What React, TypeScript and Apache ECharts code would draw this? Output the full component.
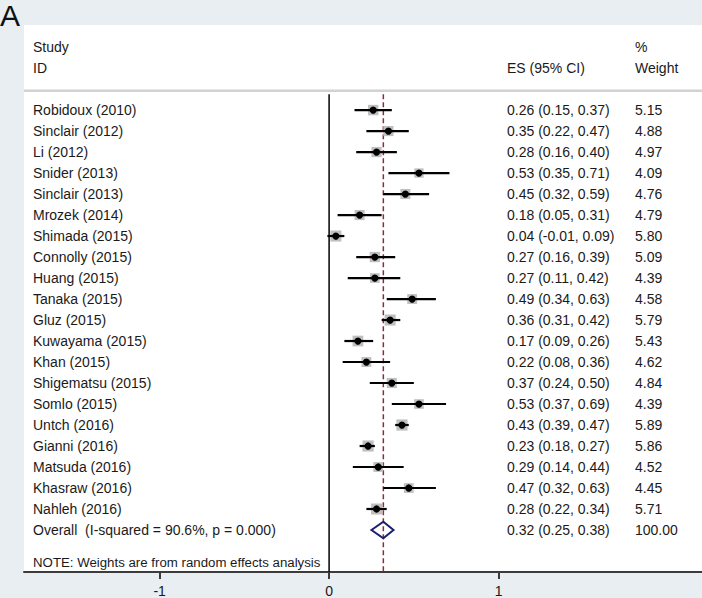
import React, { useEffect, useRef } from "react";
import * as echarts from "echarts";

// ---- data ----
const studies = [
  "Robidoux (2010)", "Sinclair (2012)", "Li (2012)", "Snider (2013)", "Sinclair (2013)",
  "Mrozek (2014)", "Shimada (2015)", "Connolly (2015)", "Huang (2015)", "Tanaka (2015)",
  "Gluz (2015)", "Kuwayama (2015)", "Khan (2015)", "Shigematsu (2015)", "Somlo (2015)",
  "Untch (2016)", "Gianni (2016)", "Matsuda (2016)", "Khasraw (2016)", "Nahleh (2016)",
];
const es = [0.26, 0.35, 0.28, 0.53, 0.45, 0.18, 0.04, 0.27, 0.27, 0.49, 0.36, 0.17, 0.22, 0.37, 0.53, 0.43, 0.23, 0.29, 0.47, 0.28];
const ciLow = [0.15, 0.22, 0.16, 0.35, 0.32, 0.05, -0.01, 0.16, 0.11, 0.34, 0.31, 0.09, 0.08, 0.24, 0.37, 0.39, 0.18, 0.14, 0.32, 0.22];
const ciHigh = [0.37, 0.47, 0.40, 0.71, 0.59, 0.31, 0.09, 0.39, 0.42, 0.63, 0.42, 0.26, 0.36, 0.50, 0.69, 0.47, 0.27, 0.44, 0.63, 0.34];
const weights = [5.15, 4.88, 4.97, 4.09, 4.76, 4.79, 5.80, 5.09, 4.39, 4.58, 5.79, 5.43, 4.62, 4.84, 4.39, 5.89, 5.86, 4.52, 4.45, 5.71];

const overallLabel = "Overall  (I-squared = 90.6%, p = 0.000)";
const overallES = 0.32;
const overallLow = 0.25;
const overallHigh = 0.38;
const overallWeight = 100.0;
const noteText = "NOTE: Weights are from random effects analysis";
const headerRow1 = ["Study", "", "%"];
const headerRow2 = ["ID", "ES (95% CI)", "Weight"];
const xTicks = [-1, 0, 1];

// ---- layout constants ----
const FONT = "Liberation Sans, Arial, sans-serif";
const TEXT_COLOR = "#1a1a1a";
const COL_X = [33, 507, 635];

const fmt = (v: number) => v.toFixed(2);

type TextRow = { row: number; cells: string[]; size: number };
const textRows: TextRow[] = [
  { row: -3, cells: headerRow1, size: 14 },
  { row: -2, cells: headerRow2, size: 14 },
  ...studies.map((s, i) => ({
    row: i,
    cells: [s, `${fmt(es[i])} (${fmt(ciLow[i])}, ${fmt(ciHigh[i])})`, fmt(weights[i])],
    size: 14,
  })),
  {
    row: studies.length,
    cells: [overallLabel, `${fmt(overallES)} (${fmt(overallLow)}, ${fmt(overallHigh)})`, fmt(overallWeight)],
    size: 14,
  },
  { row: studies.length + 1.55, cells: [noteText, "", ""], size: 13.25 },
];

export default function App() {
  const ref = useRef<HTMLDivElement>(null);
  useEffect(() => {
    if (!ref.current) return;
    const chart = echarts.init(ref.current, null, { renderer: "svg" });

    const studyData = studies.map((_, i) => [es[i], i, ciLow[i], ciHigh[i], weights[i]]);

    chart.setOption({
      animation: false,
      backgroundColor: "#e8eef1",
      grid: {
        left: 24,
        right: 0,
        top: 25,
        bottom: 26,
        show: true,
        backgroundColor: "#ffffff",
        borderWidth: 0,
      },
      xAxis: {
        type: "value",
        min: -1.8,
        max: 2.2,
        position: "bottom",
        axisLine: { show: true, onZero: false, lineStyle: { color: "#3c3c3c", width: 2 } },
        axisTick: { show: true, customValues: xTicks, length: 7, lineStyle: { color: "#3c3c3c", width: 2 } },
        axisLabel: {
          show: true,
          customValues: xTicks,
          color: TEXT_COLOR,
          fontSize: 14,
          fontFamily: FONT,
          margin: 12,
        },
        splitLine: { show: false },
      },
      yAxis: {
        type: "value",
        min: -4.05,
        max: 22,
        inverse: true,
        show: false,
      },
      graphic: [
        {
          type: "text",
          x: 0,
          y: 0,
          style: { text: "A", fill: "#111", font: `30px ${FONT}`, align: "left", verticalAlign: "top" },
        },
        {
          type: "line",
          shape: { x1: 24, y1: 90.8, x2: 702, y2: 90.8 },
          style: { stroke: "#d2d2d2", lineWidth: 2.5 },
        },
      ],
      series: [
        // reference lines (no effect and overall effect)
        {
          type: "custom",
          silent: true,
          data: [
            [0, -0.75, 22, 0],
            [overallES, -0.75, 22, 1],
          ],
          renderItem: (params: any, api: any) => {
            const a = api.coord([api.value(0), api.value(1)]);
            const b = api.coord([api.value(0), api.value(2)]);
            const dashed = api.value(3) === 1;
            return {
              type: "line",
              shape: { x1: a[0], y1: a[1], x2: b[0], y2: b[1] },
              style: dashed
                ? { stroke: "#8e2b3c", lineWidth: 1.5, lineDash: [5, 3] }
                : { stroke: "#000", lineWidth: 1.5 },
            };
          },
        },
        // study markers
        {
          type: "custom",
          silent: true,
          data: studyData,
          renderItem: (params: any, api: any) => {
            const row = api.value(1);
            const c = api.coord([api.value(0), row]);
            const l = api.coord([api.value(2), row]);
            const h = api.coord([api.value(3), row]);
            const side = 4.6 * Math.sqrt(api.value(4));
            return {
              type: "group",
              children: [
                {
                  type: "rect",
                  shape: { x: c[0] - side / 2, y: c[1] - side / 2, width: side, height: side },
                  style: { fill: "#bfbfbf" },
                },
                {
                  type: "line",
                  shape: { x1: l[0], y1: l[1], x2: h[0], y2: h[1] },
                  style: { stroke: "#000", lineWidth: 2.2 },
                },
                {
                  type: "circle",
                  shape: { cx: c[0], cy: c[1], r: 3.6 },
                  style: { fill: "#000" },
                },
              ],
            };
          },
        },
        // overall diamond
        {
          type: "custom",
          silent: true,
          data: [[overallES, studies.length, overallLow, overallHigh]],
          renderItem: (params: any, api: any) => {
            const row = api.value(1);
            const c = api.coord([api.value(0), row]);
            const l = api.coord([api.value(2), row]);
            const h = api.coord([api.value(3), row]);
            const hh = 8.3;
            return {
              type: "polygon",
              shape: {
                points: [
                  [l[0], l[1]],
                  [c[0], c[1] - hh],
                  [h[0], h[1]],
                  [c[0], c[1] + hh],
                ],
              },
              style: { fill: "none", stroke: "#1b1f6e", lineWidth: 2 },
            };
          },
        },
        // text table
        {
          type: "custom",
          silent: true,
          data: textRows.map((r, i) => [0, r.row, i]),
          renderItem: (params: any, api: any) => {
            const idx = api.value(2);
            const y = api.coord([0, api.value(1)])[1];
            const tr = textRows[idx];
            return {
              type: "group",
              children: tr.cells
                .map((t, k) => ({
                  type: "text",
                  x: COL_X[k],
                  y,
                  style: {
                    text: t,
                    fill: TEXT_COLOR,
                    font: `${tr.size}px ${FONT}`,
                    align: "left",
                    verticalAlign: "middle",
                  },
                }))
                .filter((e) => e.style.text !== ""),
            };
          },
        },
      ],
    });
    return () => chart.dispose();
  }, []);
  return <div ref={ref} style={{ position: "absolute", left: 0, top: 0, width: 702, height: 598 }} />;
}
